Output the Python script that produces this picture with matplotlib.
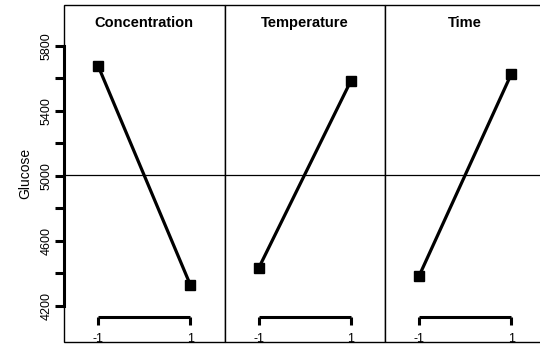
import matplotlib
matplotlib.use("Agg")
import matplotlib.pyplot as plt
from matplotlib.patches import Rectangle
import numpy as np

plt.rcParams['font.family'] = ['Liberation Sans', 'DejaVu Sans']

factors = ["Concentration", "Temperature", "Time"]
levels = [-1, 1]
glucose_means = {
    "Concentration": [5677, 4329],
    "Temperature": [4432, 5585],
    "Time": [4385, 5628],
}
y_ticks = [4200, 4400, 4600, 4800, 5000, 5200, 5400, 5600, 5800]
y_labels = ["4200", "", "4600", "", "5000", "", "5400", "", "5800"]
grand_mean = np.mean([v for vals in glucose_means.values() for v in vals])

fig = plt.figure(figsize=(5.4, 3.47), dpi=100)
left, bottom, width, height = 64 / 540, 5 / 347, 160.5 / 540, 337 / 347

ylim = (3978, 6052)
xlim = (-1.74, 1.74)

for i, name in enumerate(factors):
    ax = fig.add_axes([left + i * width, bottom, width, height])
    ax.set_xlim(*xlim)
    ax.set_ylim(*ylim)
    for s in ["top", "right"]:
        ax.spines[s].set_visible(False)
    ax.add_patch(Rectangle((0, 0), 1, 1, transform=ax.transAxes, fill=False,
                           lw=1.0, ec="black", clip_on=False, zorder=5))

    ax.axhline(grand_mean, color="black", lw=0.9, zorder=1)
    ax.plot(levels, glucose_means[name], color="black", lw=2.3,
            marker="s", ms=7.8, mfc="black", mec="black", zorder=3,
            clip_on=False)
    ax.text(0.5, 0.948, name, transform=ax.transAxes, ha="center", va="center",
            fontsize=10.5, fontweight="bold")

    # x axis drawn inside the panel as a bracket over the two levels
    ax.spines["bottom"].set_position(("axes", 0.073))
    ax.spines["bottom"].set_bounds(-1, 1)
    ax.spines["bottom"].set_linewidth(2.2)
    ax.spines["bottom"].set_capstyle("butt")
    ax.set_xticks(levels)
    ax.set_xticklabels([str(v) for v in levels])
    ax.tick_params(axis="x", direction="out", length=5.5, width=2.2,
                   labelsize=9, pad=6)

    if i == 0:
        ax.spines["left"].set_bounds(y_ticks[0], y_ticks[-1])
        ax.spines["left"].set_linewidth(2.2)
        ax.set_yticks(y_ticks)
        ax.set_yticklabels(y_labels, rotation=90, va="center")
        ax.tick_params(axis="y", direction="out", length=6.5, width=2.2,
                       labelsize=9, pad=1.5)
        ax.set_ylabel("Glucose", fontsize=10, labelpad=6)
    else:
        ax.spines["left"].set_visible(False)
        ax.set_yticks([])

fig.savefig("out.png", dpi=100)
